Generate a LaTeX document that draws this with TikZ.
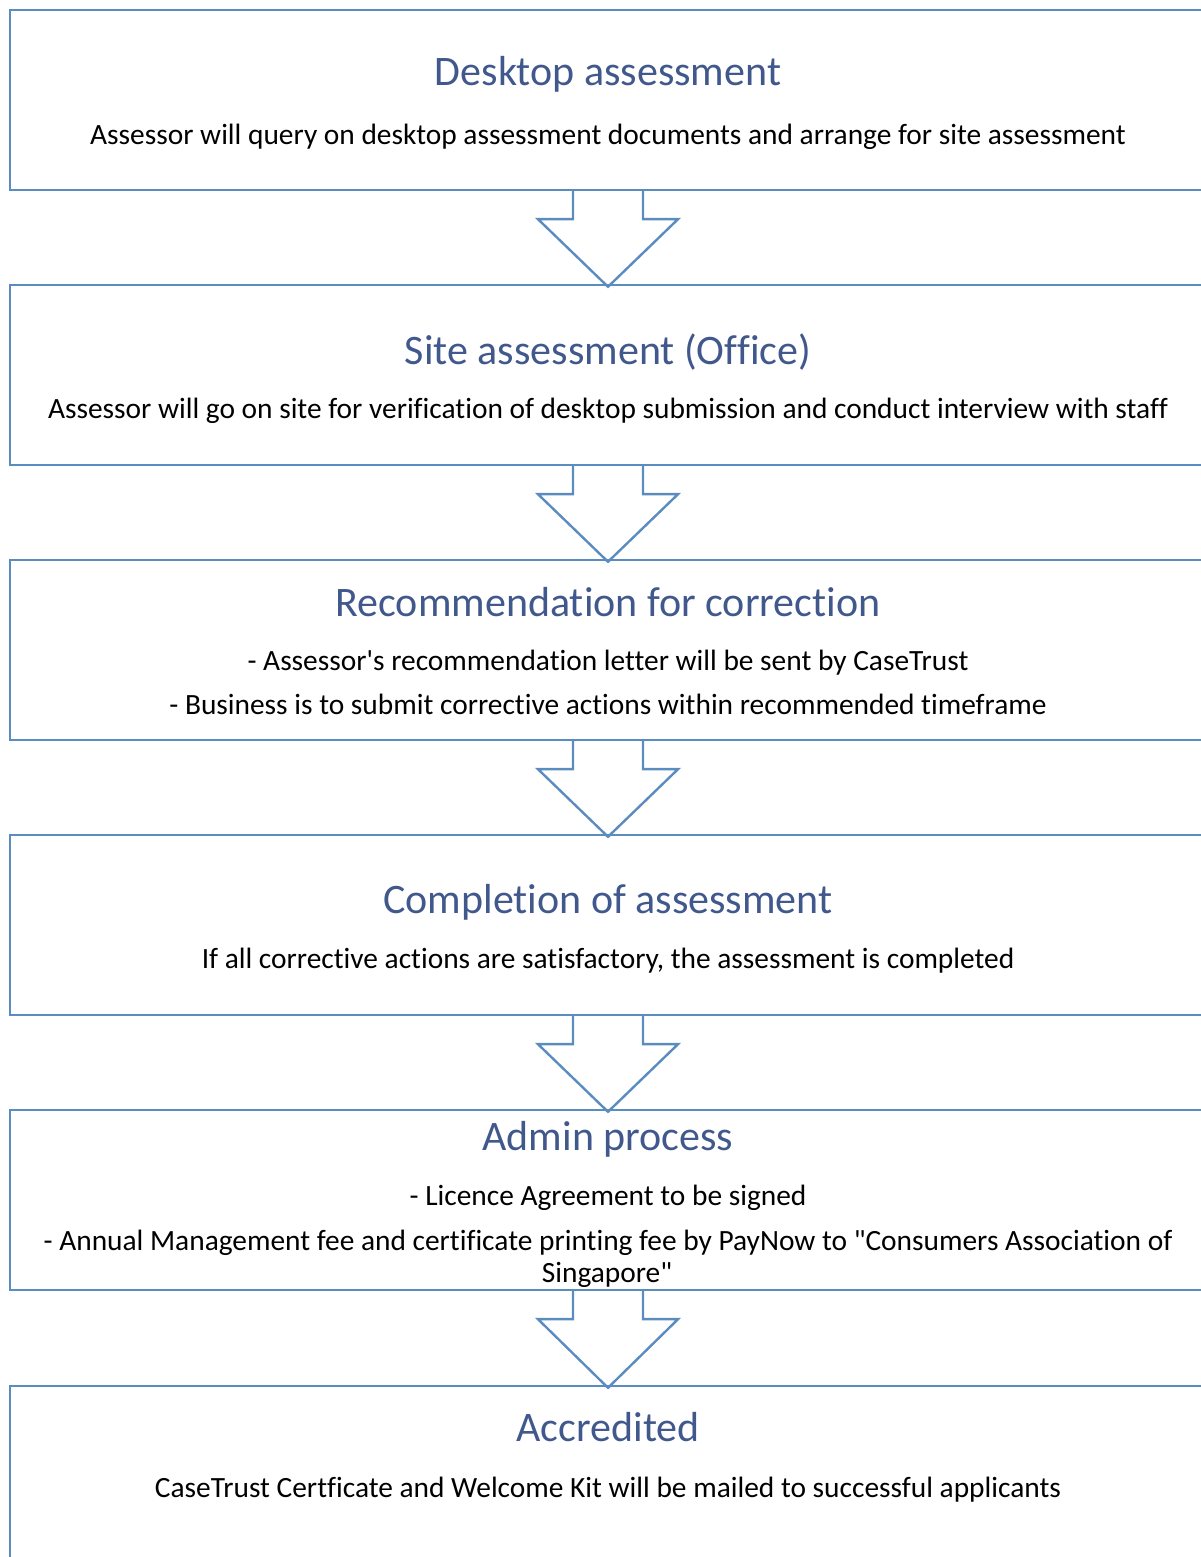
\documentclass[tikz,border=0pt]{standalone}
\usepackage{fontspec}
\setmainfont{Carlito}[Ligatures={TeX,NoCommon}]
\definecolor{boxblue}{RGB}{91,140,192}
\definecolor{titleblue}{RGB}{65,88,140}
\tikzset{
  box/.style={draw=boxblue, line width=2.4pt, minimum width=1196pt, minimum height=180pt, inner sep=0pt},
  ttl/.style={anchor=base, text=titleblue, font=\fontsize{42}{50}\selectfont, inner sep=0pt},
  bodytxt/.style={anchor=base, text=black, font=\fontsize{29.4}{33}\selectfont, inner sep=0pt, align=center},
  blockarrow/.style={draw=boxblue, line width=2.4pt, line join=miter}
}
\begin{document}
\begin{tikzpicture}[x=1pt,y=1pt]
\useasboundingbox (0,0) rectangle (1200,1557);
% boxes (image y -> 1557 - y)
\node[box] (b1) at (608,1457) {};
\node[box] (b2) at (608,1182) {};
\node[box] (b3) at (608,907) {};
\node[box] (b4) at (608,632) {};
\node[box] (b5) at (608,357) {};
\node[box] (b6) at (608,81) {};
% block arrows
\foreach \a/\b in {b1/b2,b2/b3,b3/b4,b4/b5,b5/b6}{
  \draw[blockarrow] ([xshift=-35pt]\a.south) -- ++(0,-28) -- ++(-35,0)
     -- ([yshift=-3pt]\b.north) -- ([xshift=70pt,yshift=-28pt]\a.south) -- ++(-35,0) -- ([xshift=35pt]\a.south);
}
% texts
\node[ttl] (t1) at (608,1557-86) {Desktop assessment};
\node[bodytxt] (d1) at (608,1557-145) {Assessor will query on desktop assessment documents and arrange for site assessment};
\node[ttl] (t2) at (608,1557-365) {Site assessment (Office)};
\node[bodytxt] (d2) at (608,1557-419) {Assessor will go on site for verification of desktop submission and conduct interview with staff};
\node[ttl] (t3) at (608,1557-617) {Recommendation for correction};
\node[bodytxt] (d3a) at (608,1557-671) {- Assessor\textquotesingle s recommendation letter will be sent by CaseTrust};
\node[bodytxt] (d3b) at (608,1557-715) {- Business is to submit corrective actions within recommended timeframe};
\node[ttl] (t4) at (608,1557-914) {Completion of assessment};
\node[bodytxt] (d4) at (608,1557-969) {If all corrective actions are satisfactory, the assessment is completed};
\node[ttl] (t5) at (608,1557-1151) {Admin process};
\node[bodytxt] (d5a) at (608,1557-1206) {- Licence Agreement to be signed};
\node[bodytxt] (d5b) at (608,1557-1251) {- Annual Management fee and certificate printing fee by PayNow to \textquotedbl Consumers Association of};
\node[bodytxt] (d5c) at (607,1557-1283) {Singapore\textquotedbl};
\node[ttl] (t6) at (608,1557-1442) {Accredited};
\node[bodytxt] (d6) at (608,1557-1498) {CaseTrust Certficate and Welcome Kit will be mailed to successful applicants};
\end{tikzpicture}
\end{document}
